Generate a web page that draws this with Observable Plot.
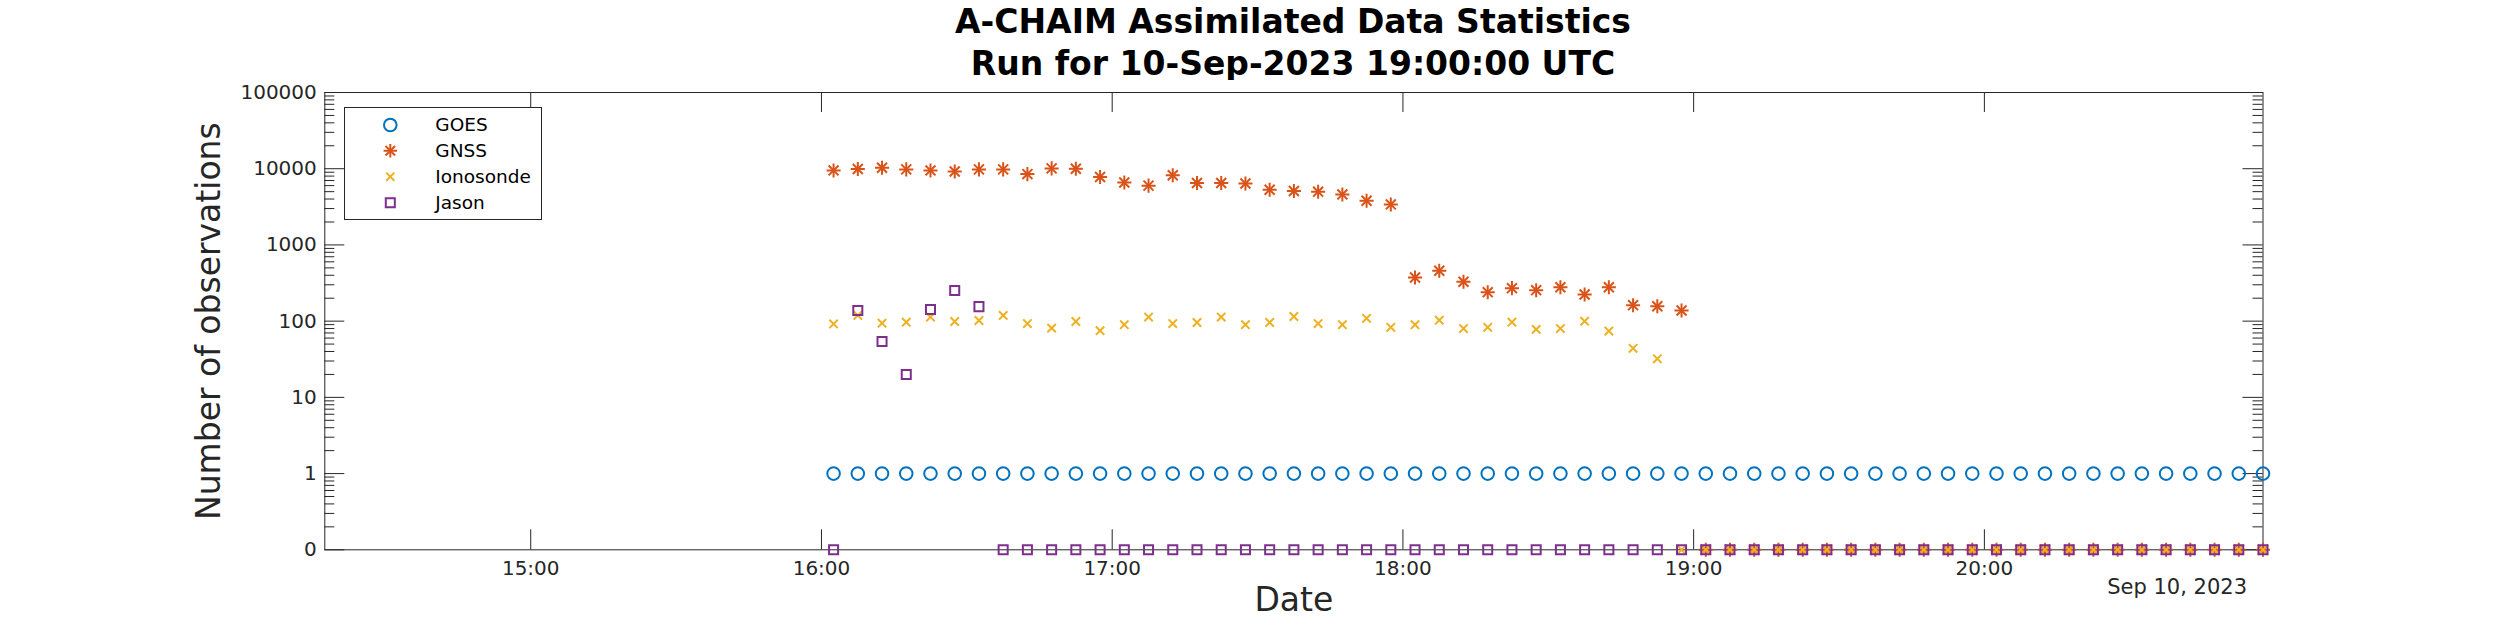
<!DOCTYPE html>
<html>
<head>
<meta charset="utf-8">
<script src="https://cdn.jsdelivr.net/npm/d3@7"></script>
<script src="https://cdn.jsdelivr.net/npm/@observablehq/plot@0.6"></script>
<style>
  body { margin: 0; background: #fff; font-family: "DejaVu Sans", sans-serif; }
  #wrap { position: relative; width: 2500px; height: 625px; overflow: hidden; background: #fff; }
  #title { position: absolute; left: 324px; width: 1938px; top: 1px; height: 80px; text-align: center;
           font-weight: bold; font-size: 33px; line-height: 42px; color: #000; }
  #chart { position: absolute; left: 0; top: 80px; }
  #legend { position: absolute; left: 344px; top: 107px; }
</style>
</head>
<body>
<div id="wrap">
  <div id="title">A-CHAIM Assimilated Data Statistics<br>Run for 10-Sep-2023 19:00:00 UTC</div>
  <div id="chart"></div>
  <div id="legend"></div>
</div>
<script>
// ---- data ----
const times = [
  "16:02:30","16:07:30","16:12:30","16:17:30","16:22:30","16:27:30","16:32:30","16:37:30","16:42:30","16:47:30","16:52:30","16:57:30",
  "17:02:30","17:07:30","17:12:30","17:17:30","17:22:30","17:27:30","17:32:30","17:37:30","17:42:30","17:47:30","17:52:30","17:57:30",
  "18:02:30","18:07:30","18:12:30","18:17:30","18:22:30","18:27:30","18:32:30","18:37:30","18:42:30","18:47:30","18:52:30","18:57:30",
  "19:02:30","19:07:30","19:12:30","19:17:30","19:22:30","19:27:30","19:32:30","19:37:30","19:42:30","19:47:30","19:52:30","19:57:30",
  "20:02:30","20:07:30","20:12:30","20:17:30","20:22:30","20:27:30","20:32:30","20:37:30","20:42:30","20:47:30","20:52:30","20:57:30"
];
const goes = [
  1,1,1,1,1,1,1,1,1,1,1,1,
  1,1,1,1,1,1,1,1,1,1,1,1,
  1,1,1,1,1,1,1,1,1,1,1,1,
  1,1,1,1,1,1,1,1,1,1,1,1,
  1,1,1,1,1,1,1,1,1,1,1,1
];
const gnss = [
  9500,9900,10300,9800,9500,9200,9800,9800,8500,10100,10000,7800,
  6600,6000,8200,6500,6500,6400,5300,5100,5000,4600,3800,3400,
  374,458,329,240,271,255,279,224,279,162,157,138,
  0,0,0,0,0,0,0,0,0,0,0,0,
  0,0,0,0,0,0,0,0,0,0,0,0
];
const ionosonde = [
  92,119,94,97,113,99,102,119,93,81,99,75,
  90,113,93,96,113,90,96,115,93,90,109,83,
  90,103,80,83,97,78,80,100,74,44,32,0,
  0,0,0,0,0,0,0,0,0,0,0,0,
  0,0,0,0,0,0,0,0,0,0,0,0
];
const jason = [
  0,138,54,20,142,253,155,0,0,0,0,0,
  0,0,0,0,0,0,0,0,0,0,0,0,
  0,0,0,0,0,0,0,0,0,0,0,0,
  0,0,0,0,0,0,0,0,0,0,0,0,
  0,0,0,0,0,0,0,0,0,0,0,0
];
const seriesNames = ["GOES", "GNSS", "Ionosonde", "Jason"];
const seriesColors = ["#0072BD", "#D95319", "#EDB120", "#7E2F8E"];
const xTickLabels = ["15:00", "16:00", "17:00", "18:00", "19:00", "20:00"];
const xDomain = ["14:17:30", "20:57:30"];
const dateLabel = "Sep 10, 2023";
const yMajor = [0.1, 1, 10, 100, 1000, 10000, 100000];
const yTickLabels = ["0", "1", "10", "100", "1000", "10000", "100000"];
const yFloor = 0.1; // zero counts are drawn on the bottom line, labelled "0"

// ---- build ----
const day = t => new Date(`2023-09-10T${t}Z`);
const rows = times.map((t, i) => ({
  time: day(t), goes: goes[i], gnss: gnss[i], iono: ionosonde[i], jason: jason[i]
}));
const yv = v => (v === 0 ? yFloor : v);
const xTicks = xTickLabels.map(t => day(t + ":00"));
const yLabelMap = new Map(yMajor.map((v, i) => [v, yTickLabels[i]]));
const yMinor = [];
for (let e = -1; e < 5; e++) for (let m = 2; m <= 9; m++) yMinor.push(+(m * Math.pow(10, e)).toPrecision(3));

const W = 2500, H = 545;
const mL = 324.3, mR = 237.5, mT = 12, mB = 75.7;
const pw = W - mL - mR, ph = H - mT - mB;
const axisColor = "#262626";

const sym = {strokeWidth: 2};
const chart = Plot.plot({
  width: W, height: H,
  marginLeft: mL, marginRight: mR, marginTop: mT, marginBottom: mB,
  style: {fontFamily: "DejaVu Sans", fontSize: "20px", color: axisColor, background: "white", overflow: "visible"},
  x: {type: "utc", domain: xDomain.map(day), axis: null},
  y: {type: "log", domain: [yMajor[0], yMajor[yMajor.length - 1]], axis: null},
  marks: [
    Plot.frame({stroke: axisColor, strokeWidth: 1}),
    Plot.tickY(yMajor, {y: d => d, insetRight: pw - 20, stroke: axisColor}),
    Plot.tickY(yMajor, {y: d => d, insetLeft: pw - 20, stroke: axisColor}),
    Plot.tickY(yMinor, {y: d => d, insetRight: pw - 10, stroke: axisColor}),
    Plot.tickY(yMinor, {y: d => d, insetLeft: pw - 10, stroke: axisColor}),
    Plot.tickX(xTicks, {x: d => d, insetTop: ph - 20, stroke: axisColor}),
    Plot.tickX(xTicks, {x: d => d, insetBottom: ph - 20, stroke: axisColor}),
    Plot.axisY({ticks: yMajor, tickSize: 0, tickPadding: 8, tickFormat: d => yLabelMap.get(d), fontSize: 20, fill: axisColor, label: null}),
    Plot.axisX({ticks: xTicks, tickSize: 0, tickPadding: 11, tickFormat: d3.utcFormat("%H:%M"), fontSize: 20, fill: axisColor, label: null}),
    Plot.text(["Number of observations"], {text: d => d, frameAnchor: "left", dx: -115, rotate: -90, textAnchor: "middle", fontSize: 33, fill: axisColor}),
    Plot.text(["Date"], {text: d => d, frameAnchor: "bottom", dy: 61, textAnchor: "middle", fontSize: 33, fill: axisColor}),
    Plot.text([dateLabel], {text: d => d, frameAnchor: "bottom-right", dy: 44, dx: -16, textAnchor: "end", fontSize: 21, fill: axisColor}),
    // data
    Plot.dot(rows, {x: "time", y: d => yv(d.goes), symbol: "circle", r: 6.3, stroke: seriesColors[0], fill: "none", ...sym}),
    Plot.dot(rows, {x: "time", y: d => yv(d.gnss), symbol: "plus", r: 4.6, stroke: seriesColors[1], ...sym}),
    Plot.dot(rows, {x: "time", y: d => yv(d.gnss), symbol: "times", r: 4.6, stroke: seriesColors[1], ...sym}),
    Plot.dot(rows, {x: "time", y: d => yv(d.iono), symbol: "times", r: 3.9, stroke: seriesColors[2], ...sym}),
    Plot.dot(rows, {x: "time", y: d => yv(d.jason), symbol: "square", r: 5.1, stroke: seriesColors[3], fill: "none", ...sym})
  ]
});
document.getElementById("chart").appendChild(chart);

// ---- legend ----
const legW = 198, legH = 113;
const leg = d3.select("#legend").append("svg").attr("width", legW).attr("height", legH)
  .style("font-family", "DejaVu Sans");
leg.append("rect").attr("x", 0.5).attr("y", 0.5).attr("width", legW - 1).attr("height", legH - 1)
  .attr("fill", "white").attr("stroke", axisColor).attr("stroke-width", 1);
const legendSymbols = [
  [{type: d3.symbolCircle, r: 6.3}],
  [{type: d3.symbolPlus, r: 4.4}, {type: d3.symbolTimes, r: 4.4}],
  [{type: d3.symbolTimes, r: 3.8}],
  [{type: d3.symbolSquare, r: 5.1}]
];
const rowY = [18, 43.7, 69.7, 95.7];
seriesNames.forEach((name, i) => {
  const g = leg.append("g").attr("transform", `translate(46.3,${rowY[i]})`);
  legendSymbols[i].forEach(s => {
    g.append("path").attr("d", d3.symbol(s.type, Math.PI * s.r * s.r)())
      .attr("fill", "none").attr("stroke", seriesColors[i]).attr("stroke-width", 2);
  });
  leg.append("text").attr("x", 91.3).attr("y", rowY[i]).attr("dy", "0.35em")
    .attr("font-size", 18.5).attr("fill", "#000").text(name);
});
</script>
</body>
</html>
